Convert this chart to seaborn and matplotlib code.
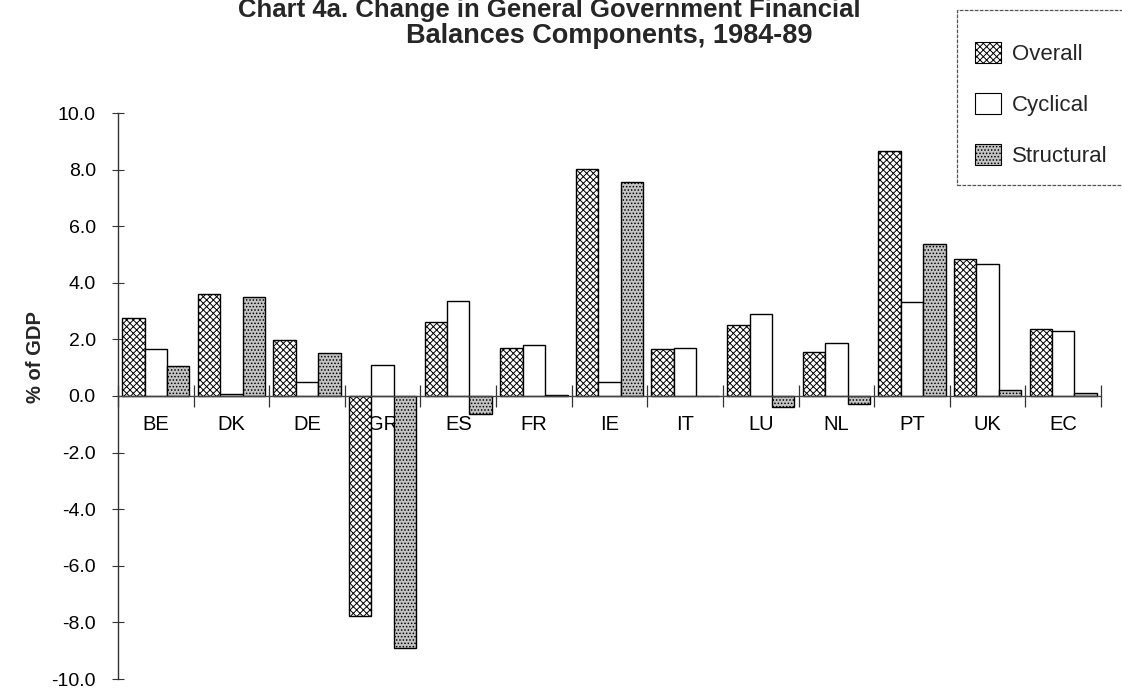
import matplotlib
matplotlib.use("Agg")
import matplotlib.pyplot as plt
import numpy as np
import pandas as pd
import seaborn as sns
from matplotlib.patches import Patch, Rectangle

countries = ["BE", "DK", "DE", "GR", "ES", "FR", "IE", "IT", "LU", "NL", "PT", "UK", "EC"]
overall = [2.77, 3.59, 1.98, -7.77, 2.6, 1.68, 8.02, 1.66, 2.51, 1.57, 8.64, 4.85, 2.38]
cyclical = [1.67, 0.08, 0.5, 1.08, 3.35, 1.79, 0.51, 1.69, 2.89, 1.86, 3.31, 4.66, 2.31]
structural = [1.06, 3.5, 1.51, -8.9, -0.64, 0.05, 7.55, 0.0, -0.38, -0.29, 5.38, 0.2, 0.1]
series_names = ["Overall", "Cyclical", "Structural"]
yticks = [-10, -8, -6, -4, -2, 0, 2, 4, 6, 8, 10]
title_line1 = "Chart 4a. Change in General Government Financial"
title_line2 = "Balances Components, 1984-89"
ylabel = "% of GDP"

sns.set_theme(style="white")
plt.rcParams["font.family"] = ["Liberation Sans", "DejaVu Sans"]
plt.rcParams["hatch.linewidth"] = 0.7

df = pd.DataFrame({
    "country": np.repeat(countries, 3),
    "series": series_names * len(countries),
    "value": np.ravel(np.column_stack([overall, cyclical, structural])),
})

faces = {"Overall": "white", "Cyclical": "white", "Structural": "#c4c4c4"}
hatches = {"Overall": "xxxxx", "Cyclical": "", "Structural": "....."}

fig = plt.figure(figsize=(11.22, 6.88), dpi=100)
ax = fig.add_axes([118 / 1122, 1 - 679 / 688, (1101 - 118) / 1122, (679 - 113) / 688])

sns.barplot(data=df, x="country", y="value", hue="series", order=countries,
            hue_order=series_names, palette=faces, edgecolor="black",
            linewidth=1.0, width=0.89, saturation=1, ax=ax, legend=False)

for cont, name in zip(ax.containers, series_names):
    for p in cont:
        p.set_hatch(hatches[name])
        p.set_facecolor(faces[name])
        p.set_edgecolor("black")

ax.set_xlim(-0.5, len(countries) - 0.5)
ax.set_ylim(-10, 10)
ax.set_yticks(yticks)
ax.set_yticklabels([f"{v:.1f}" for v in yticks], fontsize=14)
ax.set_xlabel("")
ax.set_ylabel(ylabel, fontsize=14.5, fontweight="bold")
ax.yaxis.set_label_coords((45 - 118) / 983, (679 - 357) / 566)

for s in ["top", "right"]:
    ax.spines[s].set_visible(False)
ax.spines["left"].set_color("#333333")
ax.spines["left"].set_linewidth(1.0)
ax.spines["bottom"].set_position(("data", 0))
ax.spines["bottom"].set_color("#444444")
ax.spines["bottom"].set_linewidth(1.0)

ax.tick_params(axis="y", direction="inout", length=8, width=0.8, colors="#333333",
               labelcolor="black", pad=12, left=True)
ax.set_xticks(range(len(countries)))
ax.set_xticklabels(countries, fontsize=14.5)
ax.tick_params(axis="x", which="major", length=0, pad=14, labelcolor="black")
ax.set_xticks(np.arange(len(countries) + 1) - 0.5, minor=True)
ax.tick_params(axis="x", which="minor", direction="inout", length=16, width=0.9,
               colors="#333333", bottom=True)

# titles
fig.text(238 / 1122, 1 - 17 / 688, title_line1, fontsize=18.5, fontweight="bold",
         ha="left", va="baseline")
fig.text(609 / 1122, 1 - 43 / 688, title_line2, fontsize=19.5, fontweight="bold",
         ha="center", va="baseline")

# legend
handles = [Patch(facecolor=faces[n], edgecolor="black", hatch=hatches[n], linewidth=0.8)
           for n in series_names]
leg = fig.legend(handles=handles, labels=series_names, loc="upper left",
                 bbox_to_anchor=(964 / 1122, 1 - 31 / 688), frameon=False,
                 fontsize=16, handlelength=1.15, handleheight=1.1,
                 labelspacing=1.25, handletextpad=0.5, borderpad=0)
fig.add_artist(Rectangle((957 / 1122, 1 - 185 / 688), 200 / 1122, 175 / 688,
                         transform=fig.transFigure, fill=False, edgecolor="#555555",
                         linewidth=0.9, linestyle=(0, (3, 1))))

fig.savefig("out.png", dpi=100)
